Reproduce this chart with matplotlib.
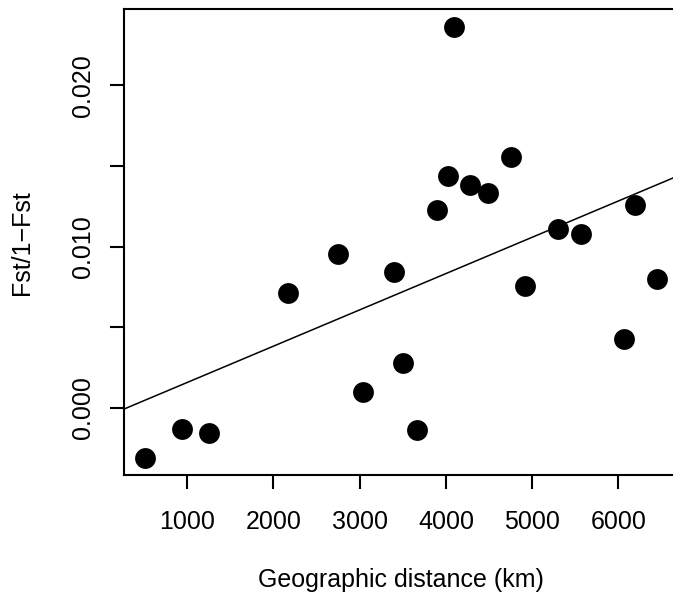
import numpy as np
import matplotlib
matplotlib.use("Agg")
import matplotlib.pyplot as plt

plt.rcParams['font.family'] = ['Liberation Sans', 'DejaVu Sans']

distance_km = [505, 942, 1255, 2166, 2750, 3039, 3394, 3498, 3665, 3892, 4020,
               4097, 4283, 4483, 4750, 4920, 5299, 5569, 6059, 6191, 6453]
fst = [-0.00310, -0.00130, -0.00159, 0.00713, 0.00951, 0.00099, 0.00844,
       0.00279, -0.00136, 0.01224, 0.01435, 0.02364, 0.01379, 0.01334,
       0.01553, 0.00752, 0.01106, 0.01079, 0.00424, 0.01255, 0.00796]
x_ticks = [1000, 2000, 3000, 4000, 5000, 6000]
y_ticks = [0.000, 0.005, 0.010, 0.015, 0.020]
y_tick_labels = ["0.000", "", "0.010", "", "0.020"]

x = np.array(distance_km, dtype=float)
y = np.array(fst, dtype=float)

fig = plt.figure(figsize=(6.73, 5.99), dpi=100)
ax = fig.add_axes([124 / 673, 124 / 599, 554 / 673, 465.7 / 599])

ax.plot(x, y, 'o', color='black', markersize=15, markeredgewidth=0)

slope, intercept = np.polyfit(x, y, 1)
xr = x.max() - x.min()
yr = y.max() - y.min()
xlim = (x.min() - 0.04 * xr, x.max() + 0.04 * xr)
ylim = (y.min() - 0.04 * yr, y.max() + 0.04 * yr)
xs = np.array(xlim)
ax.plot(xs, intercept + slope * xs, color='black', linewidth=1.1)

ax.set_xlim(*xlim)
ax.set_ylim(*ylim)

ax.set_xticks(x_ticks)
ax.set_xticklabels([str(t) for t in x_ticks])
ax.set_yticks(y_ticks)
ax.set_yticklabels(y_tick_labels, rotation=90, va='center')

for s in ax.spines.values():
    s.set_linewidth(1.5)
    s.set_color('black')

ax.tick_params(axis='both', length=10, width=1.5, labelsize=18, colors='black')
ax.tick_params(axis='x', pad=15)
ax.tick_params(axis='y', pad=10.7)

ax.set_xlabel("Geographic distance (km)", fontsize=18, labelpad=25)
ax.set_ylabel("Fst/1\u2212Fst", fontsize=18, labelpad=27)

fig.savefig("out.png", dpi=100)
